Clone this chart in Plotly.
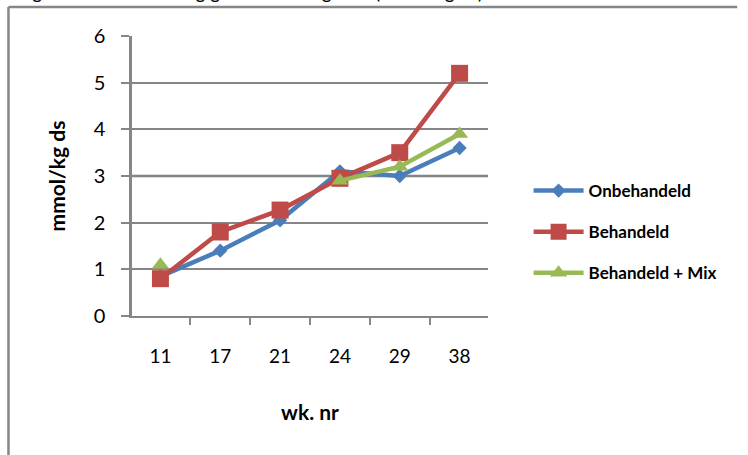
import plotly.graph_objects as go

weeks = ["11", "17", "21", "24", "29", "38"]
onbehandeld = [0.85, 1.4, 2.05, 3.1, 3.0, 3.6]
behandeld = [0.8, 1.8, 2.27, 2.95, 3.5, 5.2]
behandeld_mix = [1.1, None, None, 2.9, 3.2, 3.9]

y_ticks = [0, 1, 2, 3, 4, 5, 6]

FONT = "Lato, 'Open Sans', sans-serif"
GRAY = "#868686"

fig = go.Figure()
fig.add_trace(go.Scatter(
    x=weeks, y=onbehandeld, name="Onbehandeld", mode="lines+markers",
    line=dict(color="#4A7EBB", width=4.5),
    marker=dict(symbol="diamond", size=11, color="#4A7EBB"),
    legendgroup="a"))
fig.add_trace(go.Scatter(
    x=weeks, y=behandeld, name="Behandeld", mode="lines+markers",
    line=dict(color="#BE4B48", width=4.5),
    marker=dict(symbol="square", size=17, color="#BE4B48"),
    legendgroup="b"))
fig.add_trace(go.Scatter(
    x=weeks, y=behandeld_mix, name="Behandeld + Mix", mode="lines+markers",
    line=dict(color="#98B954", width=4.5),
    marker=dict(symbol="triangle-up", size=15, color="#98B954"),
    connectgaps=False, legendgroup="c"))

fig.update_layout(
    width=748, height=455,
    margin=dict(l=132, r=260, t=36, b=139, autoexpand=False),
    paper_bgcolor="white", plot_bgcolor="white",
    font=dict(family=FONT, color="black"),
    showlegend=True,
    legend=dict(x=1.114, y=0.30, xanchor="left", yanchor="middle",
                font=dict(size=17, family=FONT, weight="bold"),
                tracegroupgap=16, itemwidth=50,
                bgcolor="rgba(0,0,0,0)"),
    xaxis=dict(type="category", showgrid=False, showline=True,
               linecolor=GRAY, linewidth=2, ticks="outside",
               tickson="boundaries", ticklen=7, tickcolor=GRAY, tickwidth=1.5,
               tickfont=dict(size=19), ticklabelstandoff=22,
               title=dict(text="wk. nr", font=dict(size=21, weight="bold"),
                          standoff=40)),
    yaxis=dict(range=[0, 6], tickvals=y_ticks, showgrid=True,
               gridcolor=GRAY, gridwidth=1.5, showline=True,
               linecolor=GRAY, linewidth=2.5, ticks="outside", ticklen=8,
               tickcolor=GRAY, tickwidth=1.5, zeroline=False,
               tickfont=dict(size=20), ticklabelstandoff=12,
               title=dict(text="mmol/kg ds", font=dict(size=21, weight="bold"),
                          standoff=23)),
)

# emphasised gridline at 3
fig.add_shape(type="line", xref="paper", yref="y", x0=0, x1=1, y0=3, y1=3,
              line=dict(color="#7a7a7a", width=2.5), layer="below")

# surrounding frame (top and left)
fig.add_shape(type="line", xref="paper", yref="paper",
              x0=-0.347, x1=1.7, y0=1.1036, y1=1.1036,
              line=dict(color=GRAY, width=2.5))
fig.add_shape(type="line", xref="paper", yref="paper",
              x0=-0.347, x1=-0.347, y0=1.1036, y1=-0.6,
              line=dict(color=GRAY, width=2.5))

# cropped caption at very top
fig.add_annotation(xref="paper", yref="paper", x=-0.33, y=1.112,
                   xanchor="left", yanchor="bottom", showarrow=False,
                   text="Figuur 3: Ontwikkeling gehalte in de grond (mmol/kg ds)",
                   font=dict(size=19, family=FONT))

fig.write_html("out.html", config={"displayModeBar": False},
               post_script="document.body.style.margin='0px';")
